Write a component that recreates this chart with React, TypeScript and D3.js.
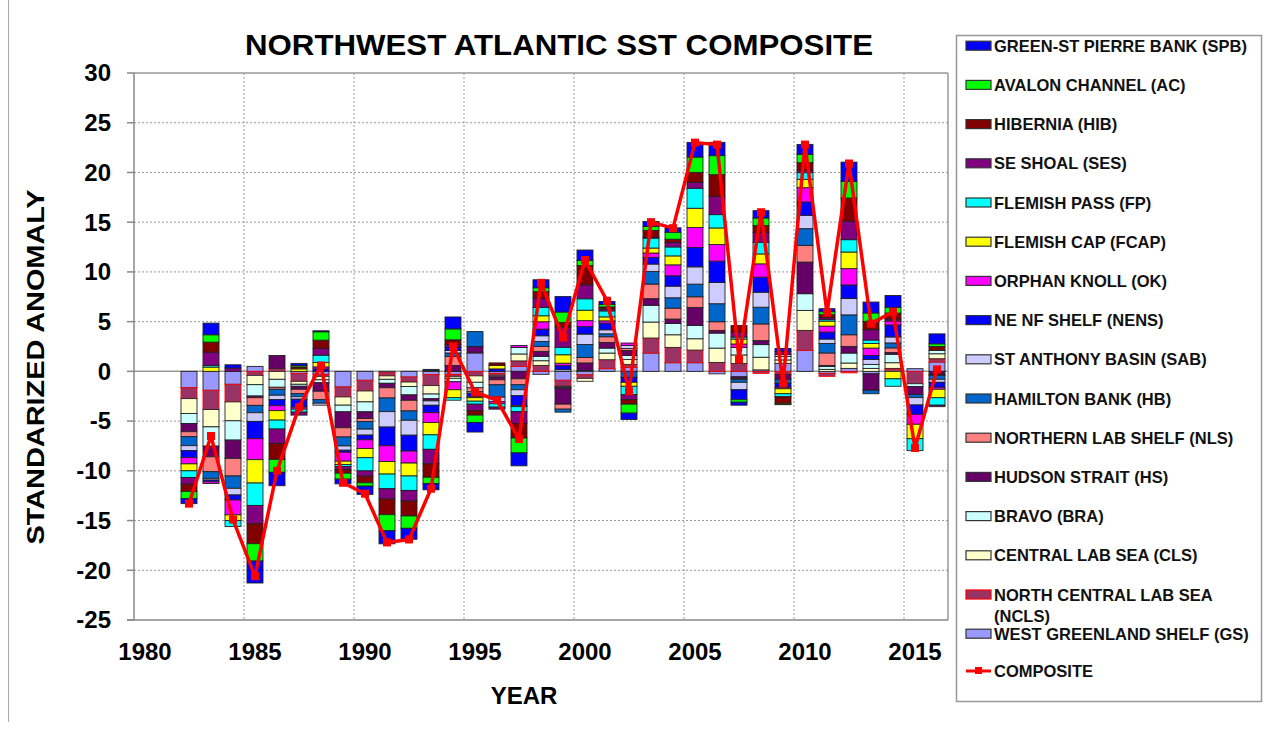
import React from 'react';
import * as d3 from 'd3';

const YEARS = [1982,1983,1984,1985,1986,1987,1988,1989,1990,1991,1992,1993,1994,1995,1996,1997,1998,1999,2000,2001,2002,2003,2004,2005,2006,2007,2008,2009,2010,2011,2012,2013,2014,2015,2016];

// series in stacking order (first = nearest zero)
const GS   = [-1.64,-1.9,-1.3,0.5,0,-0.2,-0.3,-1.57,-0.9,-0.15,-0.57,-0.33,-0.3,1.85,-0.2,0.5,-0.3,-0.9,-0.35,0.27,0.4,1.84,0.87,0.87,-0.25,-0.55,0.15,0.8,2.11,-0.2,0.3,-0.25,0.15,0.27,0.94];
const NCLS = [-1.1,-1.94,-1.77,-0.4,0.3,-0.8,-0.2,-1.0,-1.07,-0.3,-0.5,-1.1,-0.2,-0.45,-0.2,0.55,0.6,-0.6,-0.35,0.9,0.3,1.51,1.54,1.27,0.9,0.8,-0.2,-0.3,2.01,-0.3,-0.15,0,0.15,-1.24,0.33];
const CLS  = [-1.5,-1.74,-1.9,-0.94,-0.8,-0.3,-0.35,-0.83,-1.1,-0.35,-0.45,-0.85,-0.2,-0.65,-0.15,0.7,0.47,-0.1,-0.3,0.67,0.5,1.61,1.27,1.14,1.44,0.85,1.27,0.35,2.01,0.2,0.54,0.3,0.57,0,0.5];
const BRA  = [-1.0,-1.94,-1.94,-1.14,-0.8,-0.2,-0.3,-0.67,-1.0,-0.4,-0.85,-0.47,-0.35,-0.55,0,0.65,0.44,-0.1,0.1,0.5,0.4,1.68,1.14,1.34,1.51,0.75,1.27,0.35,1.68,0.3,1.0,0.4,0.85,-0.3,0.33];
const HS   = [-0.83,-1.07,-1.84,-0.17,1.3,-0.3,-0.85,-1.6,-0.67,-0.45,-0.54,-0.22,0.6,0.65,-0.3,-0.75,0.5,-1.6,0.75,0.57,0.5,0.67,0.44,1.81,0.27,-0.15,0.4,-0.5,3.18,0.1,0.67,-1.65,0.17,-0.8,-0.3];
const NLS  = [-0.5,-1.5,-1.77,-0.77,-0.2,-0.45,-0.85,-0.93,-0.3,-1.03,-1.07,0.1,0.9,-0.4,-0.5,-0.6,0.5,-0.5,0.55,0.57,0.2,1.47,1.1,1.07,0.87,-0.1,1.68,0,1.68,1.25,1.17,0,0.47,0,-0.1];
const HB   = [-0.9,-0.67,-1.24,-0.74,-0.6,-0.3,-0.35,-0.9,-0.77,-1.37,-0.94,0.1,0.35,1.5,-1.25,-0.5,0.5,-0.3,1.3,0.3,-0.6,1.27,1.04,1.27,1.81,-0.3,1.68,-0.4,1.68,0.95,2.0,-0.35,0.5,-0.3,-0.4];
const SAB  = [-0.5,-0.17,-0.67,-0.87,-0.45,-0.25,-0.2,-0.43,-0.6,-1.55,-1.5,-0.44,0.25,-0.15,-0.45,-0.6,0.57,0.17,1.05,0.4,0.3,0.74,1.17,1.74,2.14,-0.75,1.51,0.2,1.34,0.45,1.64,0.5,0.6,-0.74,-0.3];
const NENS = [-0.7,-0.17,-0.5,-1.74,-0.6,-0.8,0.25,-0.2,-0.47,-1.88,-1.6,-0.74,0.35,-0.35,0.25,-1.0,0.67,0.4,0.75,0.67,-0.5,0.67,1.04,1.94,2.14,-1.0,1.51,-0.4,1.34,0.7,1.37,0.4,1.2,-0.94,-0.5];
const OK   = [-0.63,-0.17,-1.5,-2.11,-0.5,-0.2,0.2,-0.9,-0.87,-1.58,-1.2,-0.99,-0.8,-0.1,-0.2,0.2,0.74,0.25,0.6,0.23,0.25,0.44,1.1,2.01,1.67,0.35,1.34,-0.15,1.44,0.6,1.64,0.74,0.4,-1.0,-0.2];
const FCAP = [-0.7,0.43,-0.57,-2.35,-0.95,0.25,0.44,-0.33,-0.93,-1.27,-1.3,-1.24,-0.8,-0.35,0.35,-0.1,0.6,0.85,1.05,0.4,-0.4,0.5,0.9,1.94,1.67,0.5,1.0,-0.5,0.84,0.5,1.67,0.47,-0.75,-1.45,-0.85];
const FP   = [-0.67,0.17,-0.6,-2.25,-0.9,-0.3,0.74,-0.2,-1.33,-1.47,-1.45,-1.46,-0.25,-0.3,-0.35,-0.5,0.85,0.75,1.15,0.6,-0.85,1.0,0.9,2.01,1.34,0.2,1.17,-0.3,0.67,0.15,1.24,0.34,-0.75,-1.2,-0.75];
const SES  = [-0.67,1.34,0.33,-1.84,-1.45,-0.3,0.67,-0.33,-0.53,-1.03,-1.07,-1.46,0.25,-0.65,-0.2,-1.2,0.9,2.05,1.4,0.2,-0.5,0.1,0.44,0.6,1.84,0.5,1.0,0.3,0.23,0.2,1.84,1.04,0.2,0,-0.15];
const HIB  = [-0.73,1.0,0,-2.01,-1.6,0.2,0.84,-0.35,-0.67,-1.58,-1.5,-1.35,0.47,-0.45,0.25,-1.45,0.67,0.45,1.95,0.2,-0.45,0.67,0.34,1.0,2.18,0.65,0.67,-0.7,0.77,0.3,2.35,0.84,0.6,0,0.4];
const AC   = [-0.73,0.74,0,-1.74,-1.3,0.15,0.84,-0.6,-0.33,-1.62,-1.24,-0.63,1.1,-0.75,0,-1.5,0.4,1.05,0.5,0.25,-0.9,0.4,0.7,1.54,1.91,-0.25,0.77,-0.1,0.84,0.3,1.67,0.84,0.57,0,0.27];
const SPB  = [-0.5,1.17,0.33,-2.21,-1.35,0.2,0.1,-0.47,-0.83,-1.31,-1.1,-0.63,1.2,-0.95,0,-1.3,0.8,1.55,1.05,0.3,-0.65,0.5,0.44,1.47,1.34,-0.3,0.74,0.3,1.0,0.3,1.94,1.1,1.2,0,1.0];

const COMPOSITE = [-13.3,-6.5,-14.9,-20.6,-10.0,-3.6,0.6,-11.2,-12.3,-17.2,-16.9,-11.8,2.5,-2.1,-2.9,-6.8,8.9,3.4,11.2,7.1,-2.0,15.0,14.4,23.0,22.8,1.2,16.0,-1.2,22.8,5.9,20.9,4.8,6.0,-7.7,0.2];

const Y_TICKS = [-25,-20,-15,-10,-5,0,5,10,15,20,25,30];
const X_TICKS = [1980,1985,1990,1995,2000,2005,2010,2015];

const SERIES = [
  { key: 'GS', name: 'WEST GREENLAND SHELF (GS)', values: GS, fill: '#9999FF', stroke: '#222' },
  { key: 'NCLS', name: 'NORTH CENTRAL LAB SEA (NCLS)', values: NCLS, fill: '#993366', stroke: '#FF0000' },
  { key: 'CLS', name: 'CENTRAL LAB SEA (CLS)', values: CLS, fill: '#FFFFCC', stroke: '#222' },
  { key: 'BRA', name: 'BRAVO (BRA)', values: BRA, fill: '#CCFFFF', stroke: '#222' },
  { key: 'HS', name: 'HUDSON STRAIT (HS)', values: HS, fill: '#660066', stroke: '#222' },
  { key: 'NLS', name: 'NORTHERN LAB SHELF (NLS)', values: NLS, fill: '#FF8080', stroke: '#222' },
  { key: 'HB', name: 'HAMILTON BANK (HB)', values: HB, fill: '#0066CC', stroke: '#222' },
  { key: 'SAB', name: 'ST ANTHONY BASIN (SAB)', values: SAB, fill: '#CCCCFF', stroke: '#222' },
  { key: 'NENS', name: 'NE NF SHELF (NENS)', values: NENS, fill: '#0000FF', stroke: '#222' },
  { key: 'OK', name: 'ORPHAN KNOLL (OK)', values: OK, fill: '#FF00FF', stroke: '#222' },
  { key: 'FCAP', name: 'FLEMISH CAP (FCAP)', values: FCAP, fill: '#FFFF00', stroke: '#222' },
  { key: 'FP', name: 'FLEMISH PASS (FP)', values: FP, fill: '#00FFFF', stroke: '#222' },
  { key: 'SES', name: 'SE SHOAL (SES)', values: SES, fill: '#800080', stroke: '#222' },
  { key: 'HIB', name: 'HIBERNIA (HIB)', values: HIB, fill: '#800000', stroke: '#222' },
  { key: 'AC', name: 'AVALON CHANNEL (AC)', values: AC, fill: '#00FF00', stroke: '#222' },
  { key: 'SPB', name: 'GREEN-ST PIERRE BANK (SPB)', values: SPB, fill: '#0000FF', stroke: '#222' },
];

const FONT = '"Liberation Sans", Arial, sans-serif';

export default function App() {
  const W = 1263, H = 729;
  const x = d3.scaleLinear().domain([1980, 2017]).range([134, 948]);
  const y = d3.scaleLinear().domain([-25, 30]).range([620, 73]);
  const barW = 16;

  const rows = YEARS.map((yr, i) => {
    const r: any = { year: yr };
    SERIES.forEach(s => { r[s.key] = s.values[i]; });
    return r;
  });
  const stacked = d3.stack<any>().keys(SERIES.map(s => s.key)).offset(d3.stackOffsetDiverging)(rows);

  const line = d3.line<number>()
    .x((_, i) => x(YEARS[i] + 0.5))
    .y(v => y(v));

  const legendItems = [...SERIES].reverse();
  const legY0 = 45.7, legStep = 39.2;

  return (
    <svg width={W} height={H} style={{ position: 'absolute', left: 0, top: 0, background: '#fff' }} fontFamily={FONT}>
      <rect x={0} y={0} width={W} height={H} fill="#fff" />
      <line x1={8.5} y1={0} x2={8.5} y2={722} stroke="#aaa" strokeWidth={1} />

      {/* title */}
      <text x={559} y={55} textAnchor="middle" fontSize={30} fontWeight="bold" fill="#000" textLength={628} lengthAdjust="spacingAndGlyphs">NORTHWEST ATLANTIC SST COMPOSITE</text>

      {/* grid */}
      {Y_TICKS.filter(t => t !== 0 && t !== 30 && t !== -25).map(t => (
        <line key={'gy' + t} x1={x(1980)} x2={x(2017)} y1={y(t)} y2={y(t)} stroke="#999" strokeDasharray="2,2" strokeWidth={1} />
      ))}
      {X_TICKS.filter(t => t !== 1980).map(t => (
        <line key={'gx' + t} x1={x(t)} x2={x(t)} y1={y(30)} y2={y(-25)} stroke="#999" strokeDasharray="2,2" strokeWidth={1} />
      ))}
      {/* plot border */}
      <line x1={x(1980)} x2={x(2017)} y1={y(30)} y2={y(30)} stroke="#999" strokeWidth={1.5} />
      <line x1={x(2017)} x2={x(2017)} y1={y(30)} y2={y(-25)} stroke="#999" strokeWidth={1.5} />
      <line x1={x(1980)} x2={x(2017)} y1={y(0)} y2={y(0)} stroke="#999" strokeWidth={1.5} />

      {/* bars */}
      {stacked.map((layer, si) => (
        <g key={SERIES[si].key}>
          {layer.map((d, i) => {
            const v0 = d[0], v1 = d[1];
            if (Math.abs(v1 - v0) < 1e-9) return null;
            const top = y(Math.max(v0, v1));
            const h = Math.abs(y(v0) - y(v1));
            return (
              <rect key={i} x={x(YEARS[i] + 0.5) - barW / 2} y={top} width={barW} height={h}
                fill={SERIES[si].fill} stroke={SERIES[si].stroke} strokeWidth={0.9} />
            );
          })}
        </g>
      ))}

      {/* axes */}
      <line x1={x(1980)} x2={x(1980)} y1={y(30)} y2={y(-25)} stroke="#888" strokeWidth={1.5} />
      <line x1={x(1980) - 7} x2={x(2017)} y1={y(-25)} y2={y(-25)} stroke="#888" strokeWidth={1.5} />
      {Y_TICKS.map(t => (
        <g key={'yt' + t}>
          <line x1={x(1980) - 7} x2={x(1980)} y1={y(t)} y2={y(t)} stroke="#888" strokeWidth={1.5} />
          <text x={111} y={y(t)} dy="0.35em" textAnchor="end" fontSize={24} fontWeight="bold">{t}</text>
        </g>
      ))}
      {X_TICKS.map(t => (
        <text key={'xt' + t} x={x(t + 0.5)} y={660} textAnchor="middle" fontSize={24} fontWeight="bold">{t}</text>
      ))}
      <text x={524} y={704} textAnchor="middle" fontSize={24} fontWeight="bold">YEAR</text>
      <text transform={`translate(44,367) rotate(-90)`} textAnchor="middle" fontSize={24} fontWeight="bold" textLength={355} lengthAdjust="spacingAndGlyphs">STANDARIZED ANOMALY</text>

      {/* composite */}
      <path d={line(COMPOSITE) || ''} fill="none" stroke="#FF0000" strokeWidth={3.5} strokeLinejoin="round" />
      {COMPOSITE.map((v, i) => (
        <rect key={'m' + i} x={x(YEARS[i] + 0.5) - 4} y={y(v) - 4} width={8} height={8} fill="#FF0000" />
      ))}

      {/* legend */}
      <rect x={956.5} y={35.5} width={305} height={666} fill="#fff" stroke="#999" strokeWidth={1.5} />
      {legendItems.map((s, k) => {
        const cy = legY0 + legStep * k;
        const isNCLS = s.key === 'NCLS';
        return (
          <g key={'lg' + s.key}>
            <rect x={966} y={cy - 4.5} width={25} height={9} fill={s.fill} stroke={isNCLS ? '#FF0000' : '#333'} strokeWidth={1.2} />
            {isNCLS ? (
              <text x={994} y={cy + 6} fontSize={16.5} fontWeight="bold" fill="#111">
                <tspan x={994}>NORTH CENTRAL LAB SEA</tspan>
                <tspan x={994} dy={21}>(NCLS)</tspan>
              </text>
            ) : (
              <text x={994} y={cy + 6} fontSize={16.5} fontWeight="bold" fill="#111">{s.name}</text>
            )}
          </g>
        );
      })}
      <g>
        <line x1={966} x2={991} y1={671} y2={671} stroke="#FF0000" strokeWidth={3} />
        <rect x={975} y={667} width={7} height={7} fill="#FF0000" />
        <text x={994} y={677} fontSize={16.5} fontWeight="bold" fill="#111">COMPOSITE</text>
      </g>
    </svg>
  );
}
